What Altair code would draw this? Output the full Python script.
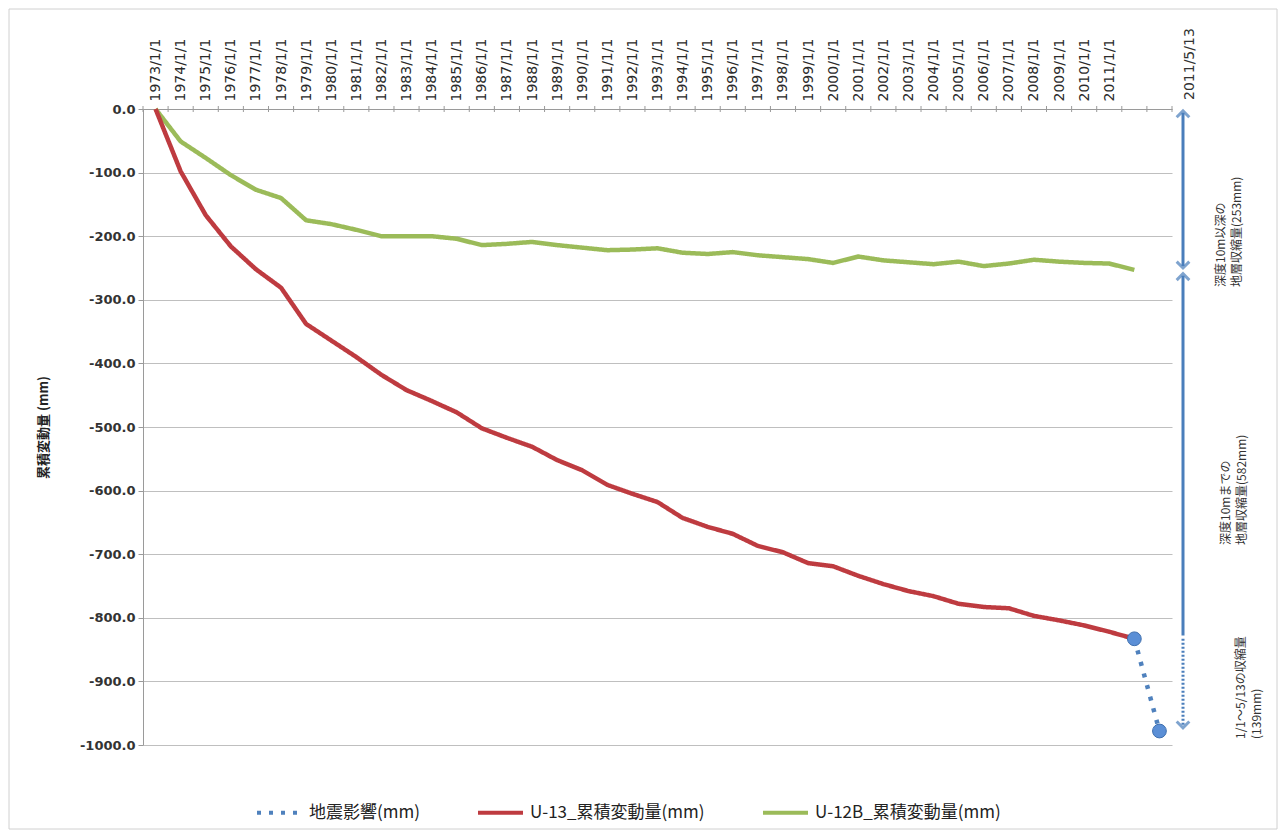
import altair as alt
import pandas as pd

# ---- data ----
year_labels = ["1973/1/1", "1974/1/1", "1975/1/1", "1976/1/1", "1977/1/1", "1978/1/1",
               "1979/1/1", "1980/1/1", "1981/1/1", "1982/1/1", "1983/1/1", "1984/1/1",
               "1985/1/1", "1986/1/1", "1987/1/1", "1988/1/1", "1989/1/1", "1990/1/1",
               "1991/1/1", "1992/1/1", "1993/1/1", "1994/1/1", "1995/1/1", "1996/1/1",
               "1997/1/1", "1998/1/1", "1999/1/1", "2000/1/1", "2001/1/1", "2002/1/1",
               "2003/1/1", "2004/1/1", "2005/1/1", "2006/1/1", "2007/1/1", "2008/1/1",
               "2009/1/1", "2010/1/1", "2011/1/1"]
end_label = "2011/5/13"

u13 = [0, -98, -167, -216, -252, -281, -338, -364, -390, -418, -442, -459, -477, -502,
       -517, -531, -552, -568, -591, -605, -618, -643, -657, -668, -687, -697, -714, -719,
       -734, -747, -758, -766, -778, -783, -785, -797, -804, -812, -822, -833]
u12b = [0, -51, -77, -104, -127, -140, -175, -181, -190, -200, -200, -200, -204, -214,
        -212, -209, -214, -218, -222, -221, -219, -226, -228, -225, -230, -233, -236, -242,
        -232, -238, -241, -244, -240, -247, -243, -237, -240, -242, -243, -253]
quake = [-833, -978]

s_quake = "地震影響(mm)"
s_u13 = "U-13_累積変動量(mm)"
s_u12b = "U-12B_累積変動量(mm)"
series_names = [s_quake, s_u13, s_u12b]
series_colors = ["#4F81BD", "#BE3B40", "#9BBB59"]

ann1 = "深度10m以深の\n地層収縮量(253mm)"
ann2 = "深度10mまでの\n地層収縮量(582mm)"
ann3 = "1/1〜5/13の収縮量\n(139mm)"

# ---- tables ----
rows = []
for i, v in enumerate(u12b):
    rows.append({"series": s_u12b, "idx": i, "value": v})
for i, v in enumerate(u13):
    rows.append({"series": s_u13, "idx": i, "value": v})
q0 = len(u13) - 1
for k, v in enumerate(quake):
    rows.append({"series": s_quake, "idx": q0 + k, "value": v})
df = pd.DataFrame(rows)
df_qpts = df[df.series == s_quake]

n_cat = len(u13) + 1
ticks_df = pd.DataFrame({"b": [i - 0.5 for i in range(n_cat + 1)]})

arrows_solid = pd.DataFrame({"y": [-6, -262], "y2": [-247, -828]})
arrows_dot = pd.DataFrame({"y": [-833], "y2": [-970]})
heads_up = pd.DataFrame({"y": [-8, -264]})
heads_down = pd.DataFrame({"y": [-245, -968]})

W, H = 1029, 636
FONT_CJK = "Noto Sans CJK JP"

label_expr = "[" + ",".join("'%s'" % s for s in year_labels) + "][datum.value]"

x_axis = alt.Axis(orient="top", values=list(range(len(year_labels))), labelExpr=label_expr,
                  labelAngle=270, labelAlign="left", labelBaseline="middle",
                  labelPadding=8, labelFontSize=14, labelFont="DejaVu Sans",
                  labelColor="#2A2A2A", labelOverlap=False, ticks=False, grid=False,
                  domainColor="#9A9A9A", title=None)
x_scale = alt.Scale(domain=[-0.5, n_cat - 0.5], nice=False, zero=False)
y_axis = alt.Axis(values=list(range(-1000, 1, 100)),
                  labelExpr="replace(format(datum.value, '.1f'), '\u2212', '-')",
                  grid=True, gridColor="#BFBFBF", gridWidth=1, domainColor="#9A9A9A",
                  tickColor="#9A9A9A", tickSize=5, labelPadding=3,
                  labelFontSize=13, labelFontWeight="bold", labelFont="DejaVu Sans",
                  labelColor="#333333", title="累積変動量 (mm)", titleFont=FONT_CJK,
                  titleFontSize=13, titleFontWeight="bold", titleColor="#222222",
                  titleAngle=270, titleX=-100, titleY=H / 2, titleAlign="center",
                  titleBaseline="middle")
y_scale = alt.Scale(domain=[-1000, 0], nice=False, zero=False)

X = alt.X("idx:Q", scale=x_scale, axis=x_axis)
Y = alt.Y("value:Q", scale=y_scale, axis=y_axis)

legend = alt.Legend(title=None, orient="none", direction="horizontal",
                    legendX=112, legendY=679, symbolType="stroke",
                    symbolSize=2025, symbolStrokeWidth=4,
                    labelFont=FONT_CJK, labelFontSize=17, labelLimit=0,
                    labelColor="#222222", columnPadding=50,
                    labelOffset=5, padding=0)

lines = alt.Chart(df).mark_line(strokeWidth=4.5, strokeJoin="round").encode(
    x=X, y=Y,
    color=alt.Color("series:N", scale=alt.Scale(domain=series_names, range=series_colors),
                    legend=legend),
    strokeDash=alt.StrokeDash("series:N",
                              scale=alt.Scale(domain=series_names,
                                              range=[[4, 8], [1, 0], [1, 0]]),
                              legend=legend),
    order="idx:Q",
)

qpts = alt.Chart(df_qpts).mark_circle(size=190, opacity=1, color="#5B8FD6",
                                      stroke="#3F6FAE", strokeWidth=1).encode(x=X, y=Y)

ticks = alt.Chart(ticks_df).mark_rule(color="#9A9A9A", strokeWidth=1).encode(
    x=alt.X("b:Q", scale=x_scale, axis=x_axis), y=alt.value(-3), y2=alt.value(3))

arr_c = "#4A7EBB"
arr1 = alt.Chart(arrows_solid).mark_rule(color=arr_c, strokeWidth=3).encode(
    x=alt.value(1040), y=alt.Y("y:Q", scale=y_scale, axis=y_axis), y2="y2:Q")
arr2 = alt.Chart(arrows_dot).mark_rule(color=arr_c, strokeWidth=3, strokeDash=[2, 2]).encode(
    x=alt.value(1040), y=alt.Y("y:Q", scale=y_scale, axis=y_axis), y2="y2:Q")
hu = alt.Chart(heads_up).mark_point(shape="M-1,0.5L0,-0.5L1,0.5", filled=False, size=160,
                                    strokeWidth=3, color=arr_c).encode(
    x=alt.value(1040), y=alt.Y("y:Q", scale=y_scale, axis=y_axis))
hd = alt.Chart(heads_down).mark_point(shape="M-1,-0.5L0,0.5L1,-0.5", filled=False, size=160,
                                      strokeWidth=3, color=arr_c).encode(
    x=alt.value(1040), y=alt.Y("y:Q", scale=y_scale, axis=y_axis))

def ann(txt, x, y, size=12, font=FONT_CJK):
    return alt.Chart(pd.DataFrame({"t": [txt]})).mark_text(
        angle=270, align="left", baseline="middle", lineBreak="\n", lineHeight=16,
        font=font, fontSize=size, color="#333333").encode(
        x=alt.value(x), y=alt.value(y), text="t:N")

t1 = ann(ann1, 1078, 178)
t2 = ann(ann2, 1083, 436)
t3 = ann(ann3, 1098, 630)
t4 = ann(end_label, 1047, -9, size=14, font="DejaVu Sans")

border = alt.Chart(pd.DataFrame({"a": [0]})).mark_rect(
    fill=None, stroke="#D0D0D0", strokeWidth=1).encode(
    x=alt.value(-134), x2=alt.value(W + 105), y=alt.value(-100), y2=alt.value(H + 84))

chart = alt.layer(border, ticks, lines, qpts, arr1, arr2, hu, hd, t1, t2, t3, t4).properties(
    width=W, height=H, autosize="none",
    padding={"left": 135, "top": 101, "right": 107, "bottom": 87},
    background="white",
).configure_view(strokeWidth=0)

chart.save("out.html", embed_options={"renderer": "svg", "actions": False})
